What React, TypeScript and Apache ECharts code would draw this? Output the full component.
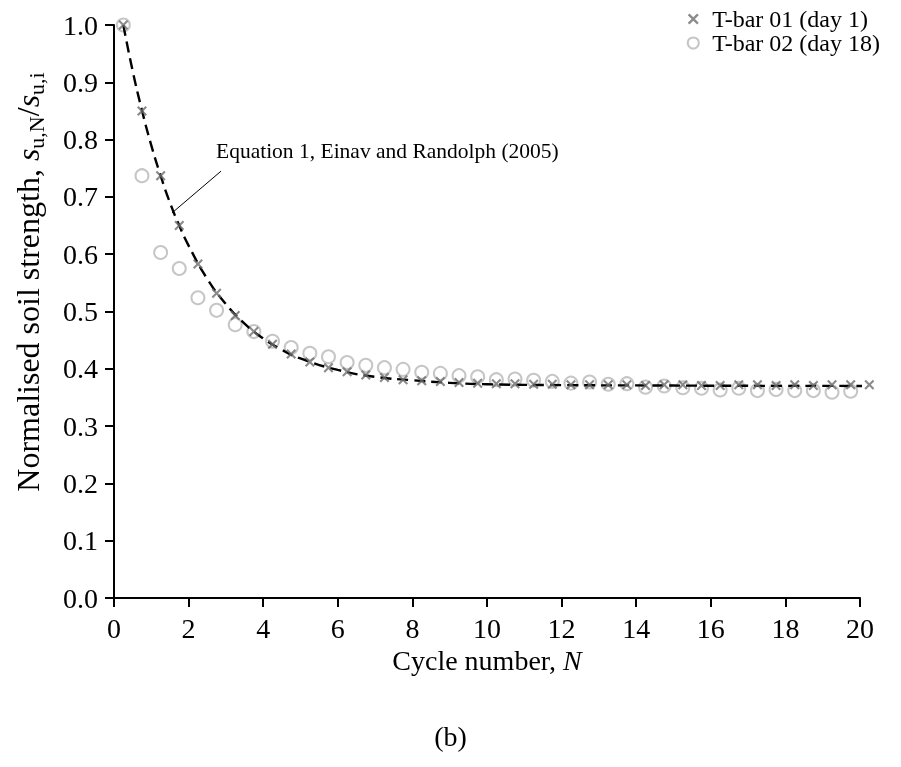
import React, { useEffect, useRef } from "react";
import * as echarts from "echarts";

const crossN = [0.25, 0.75, 1.25, 1.75, 2.25, 2.75, 3.25, 3.75, 4.25, 4.75, 5.25, 5.75, 6.25, 6.75, 7.25, 7.75, 8.25, 8.75, 9.25, 9.75, 10.25, 10.75, 11.25, 11.75, 12.25, 12.75, 13.25, 13.75, 14.25, 14.75, 15.25, 15.75, 16.25, 16.75, 17.25, 17.75, 18.25, 18.75, 19.25, 19.75, 20.25];
const tbar01 = [1.0, 0.85, 0.737, 0.65, 0.583, 0.532, 0.493, 0.465, 0.443, 0.426, 0.412, 0.402, 0.395, 0.389, 0.385, 0.381, 0.379, 0.378, 0.376, 0.375, 0.374, 0.374, 0.373, 0.373, 0.372, 0.372, 0.372, 0.372, 0.371, 0.372, 0.372, 0.371, 0.371, 0.372, 0.372, 0.371, 0.372, 0.371, 0.372, 0.372, 0.372];

const circleN = [0.25, 0.75, 1.25, 1.75, 2.25, 2.75, 3.25, 3.75, 4.25, 4.75, 5.25, 5.75, 6.25, 6.75, 7.25, 7.75, 8.25, 8.75, 9.25, 9.75, 10.25, 10.75, 11.25, 11.75, 12.25, 12.75, 13.25, 13.75, 14.25, 14.75, 15.25, 15.75, 16.25, 16.75, 17.25, 17.75, 18.25, 18.75, 19.25, 19.75];
const tbar02 = [1.0, 0.737, 0.603, 0.575, 0.524, 0.502, 0.477, 0.465, 0.448, 0.437, 0.427, 0.421, 0.411, 0.406, 0.402, 0.399, 0.394, 0.392, 0.388, 0.386, 0.381, 0.382, 0.38, 0.378, 0.375, 0.377, 0.373, 0.374, 0.368, 0.37, 0.367, 0.366, 0.363, 0.366, 0.362, 0.364, 0.362, 0.362, 0.359, 0.361];

const curveN = [0.25, 0.5, 0.75, 1.0, 1.25, 1.5, 1.75, 2.0, 2.5, 3.0, 3.5, 4.0, 4.5, 5.0, 6.0, 7.0, 8.0, 9.0, 10.0, 12.0, 14.0, 16.0, 18.0, 20.25];
const curveS = [1.0, 0.92, 0.851, 0.79, 0.737, 0.69, 0.65, 0.615, 0.557, 0.513, 0.479, 0.453, 0.433, 0.418, 0.398, 0.386, 0.38, 0.3755, 0.373, 0.3715, 0.371, 0.3705, 0.3702, 0.3701];

const leaderN = [1.555, 2.87];
const leaderS = [0.672, 0.745];

const seriesNames = ["T-bar 01 (day 1)", "T-bar 02 (day 18)"];
const annotationText = "Equation 1, Einav and Randolph (2005)";

const FONT = "'Liberation Serif', 'Times New Roman', serif";
const CROSS = "path://M1.5,0 L5,3.5 L8.5,0 L10,1.5 L6.5,5 L10,8.5 L8.5,10 L5,6.5 L1.5,10 L0,8.5 L3.5,5 L0,1.5 Z";

export default function App() {
  const ref = useRef<HTMLDivElement>(null);
  useEffect(() => {
    if (!ref.current) return;
    const chart = echarts.init(ref.current, null, { renderer: "svg" });
    const zip = (a: number[], b: number[]) => a.map((v, i) => [v, b[i]]);
    chart.setOption({
      animation: false,
      textStyle: { fontFamily: FONT, color: "#000" },
      grid: { left: 114, right: 41, top: 25, bottom: 169 },
      legend: {
        orient: "vertical",
        right: 16,
        top: 2,
        itemGap: 0,
        itemWidth: 12,
        itemHeight: 11,
        textStyle: { fontFamily: FONT, fontSize: 24, color: "#000", lineHeight: 23, padding: [0, 0, 0, 8] },
        data: [
          { name: seriesNames[0], icon: CROSS },
          { name: seriesNames[1], icon: "emptyCircle" },
        ],
      },
      xAxis: {
        type: "value",
        min: 0,
        max: 20,
        interval: 2,
        name: "{a|Cycle number, }{i|N}",
        nameLocation: "middle",
        nameGap: 44,
        nameTextStyle: {
          rich: {
            a: { fontFamily: FONT, fontSize: 28, color: "#000" },
            i: { fontFamily: FONT, fontSize: 28, fontStyle: "italic", color: "#000" },
          },
        },
        axisLine: { lineStyle: { color: "#000", width: 2 } },
        axisTick: { length: 9, lineStyle: { color: "#000", width: 2 } },
        axisLabel: { fontFamily: FONT, fontSize: 28, color: "#000", margin: 16 },
        splitLine: { show: false },
      },
      yAxis: {
        type: "value",
        min: 0,
        max: 1,
        interval: 0.1,
        axisLine: { show: true, lineStyle: { color: "#000", width: 2 } },
        axisTick: { show: true, length: 9, lineStyle: { color: "#000", width: 2 } },
        axisLabel: {
          fontFamily: FONT,
          fontSize: 28,
          color: "#000",
          margin: 16,
          formatter: (v: number) => v.toFixed(1),
        },
        splitLine: { show: false },
      },
      series: [
        {
          name: "Equation 1",
          type: "line",
          data: zip(curveN, curveS),
          smooth: true,
          symbol: "none",
          clip: false,
          lineStyle: { color: "#000", width: 2.4, type: [11, 6] },
          z: 3,
          markLine: {
            silent: true,
            symbol: "none",
            label: { show: false },
            lineStyle: { color: "#000", width: 1, type: "solid" },
            data: [[{ coord: [leaderN[0], leaderS[0]] }, { coord: [leaderN[1], leaderS[1]] }]],
          },
        },
        {
          name: seriesNames[0],
          type: "scatter",
          data: zip(crossN, tbar01),
          symbol: CROSS,
          symbolSize: 10,
          clip: false,
          itemStyle: { color: "#6e6e6e" },
          z: 4,
        },
        {
          name: seriesNames[1],
          type: "scatter",
          data: zip(circleN, tbar02),
          symbol: "emptyCircle",
          symbolSize: 13,
          clip: false,
          itemStyle: { color: "#b8b8b8", borderWidth: 2 },
          z: 2,
        },
      ],
      graphic: [
        {
          type: "text",
          left: 216,
          top: 140,
          style: { text: annotationText, fontFamily: FONT, fontSize: 21.5, fill: "#000" },
        },
        {
          type: "text",
          x: 28,
          y: 282,
          rotation: Math.PI / 2,
          style: {
            text: "{a|Normalised soil strength, }{i|s}{b|u,N}{a|/}{i|s}{b|u,i}",
            align: "center",
            verticalAlign: "middle",
            rich: {
              a: { fontFamily: FONT, fontSize: 32, fill: "#000", lineHeight: 38 },
              i: { fontFamily: FONT, fontSize: 32, fontStyle: "italic", fill: "#000", lineHeight: 38 },
              b: { fontFamily: FONT, fontSize: 22, fill: "#000", lineHeight: 22, verticalAlign: "bottom" },
            },
          },
        },
        {
          type: "text",
          left: "center",
          top: 722,
          style: { text: "(b)", fontFamily: FONT, fontSize: 28, fill: "#000" },
        },
      ],
    });
    return () => chart.dispose();
  }, []);
  return <div ref={ref} style={{ position: "fixed", left: 0, top: 0, width: 901, height: 767 }} />;
}
